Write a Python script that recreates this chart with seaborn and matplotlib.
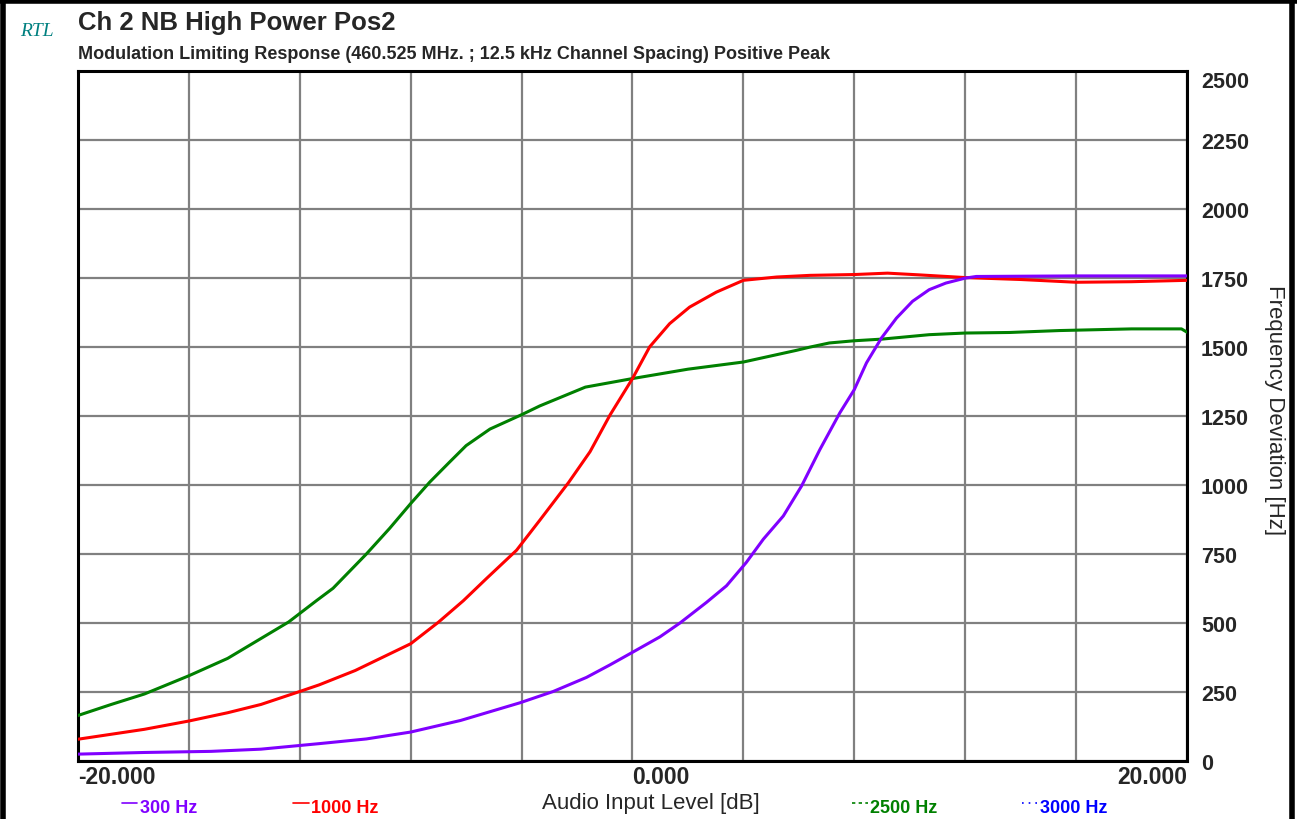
import pandas as pd
import matplotlib
matplotlib.use('Agg')
import matplotlib.pyplot as plt
import seaborn as sns
from matplotlib.lines import Line2D

# curve readings (dB input level -> Hz deviation)
x_300 = [-20, -17.6, -15.2, -13.4, -11.3, -9.6, -8, -6.2, -4.06, -2.86, -1.66, -0.82, 0,
         0.99, 1.71, 2.67, 3.39, 4.1, 4.72, 5.44, 6.1, 6.76, 7.48, 8.0, 8.44, 8.98, 9.52,
         10.1, 10.7, 11.3, 12.0, 12.4, 16, 20]
y_300 = [25, 31, 35, 43, 63, 80, 105, 147, 211, 252, 303, 348, 394,
         450, 500, 575, 635, 719, 804, 888, 997, 1129, 1262, 1346, 1443, 1533, 1605,
         1666, 1708, 1732, 1750, 1756, 1758, 1758]

x_1000 = [-20, -18.8, -17.6, -16, -14.6, -13.4, -12, -11.3, -10, -8, -7, -6.1, -5.27,
          -4.18, -3.34, -2.3, -1.53, -0.81, 0, 0.62, 1.34, 2.06, 3.02, 4, 5.2, 6.4, 8,
          9.2, 10.3, 12, 14, 16, 18, 20]
y_1000 = [79, 97, 115, 145, 175, 205, 252, 276, 328, 425, 503, 581, 661,
          764, 873, 1010, 1121, 1254, 1386, 1501, 1585, 1645, 1699, 1742, 1754, 1760, 1763,
          1768, 1762, 1752, 1745, 1735, 1737, 1742]

x_2500 = [-20, -18.8, -17.6, -16, -14.6, -13.4, -12.4, -11.4, -10.8, -9.6, -8.76, -8,
          -7.31, -6.6, -6, -5.14, -4, -3.34, -1.7, 0, 2, 4, 5.9, 6.4, 7.1, 8, 9, 10.7,
          12, 13.6, 15.4, 18, 19.8, 20]
y_2500 = [165, 205, 243, 309, 372, 444, 504, 581, 626, 750, 843, 933,
          1011, 1083, 1143, 1203, 1255, 1287, 1355, 1386, 1420, 1446, 1488, 1500, 1515,
          1523, 1529, 1545, 1551, 1553, 1560, 1566, 1566, 1554]

legend_labels = ['300 Hz', '1000 Hz', '2500 Hz', '3000 Hz']
legend_colors = ['#8000FF', '#FF0000', '#008000', '#0000FF']

x_ticks = [-20, -16, -12, -8, -4, 0, 4, 8, 12, 16, 20]
x_ticklabels = ['-20.000', '', '', '', '', '0.000', '', '', '', '', '20.000']
y_ticks = [0, 250, 500, 750, 1000, 1250, 1500, 1750, 2000, 2250, 2500]

df = pd.concat([
    pd.DataFrame({'level': x_2500, 'dev': y_2500, 'tone': '2500 Hz'}),
    pd.DataFrame({'level': x_1000, 'dev': y_1000, 'tone': '1000 Hz'}),
    pd.DataFrame({'level': x_300, 'dev': y_300, 'tone': '300 Hz'}),
])

sns.set_style('white')
plt.rcParams['font.family'] = ['Liberation Sans', 'DejaVu Sans']

fig = plt.figure(figsize=(12.97, 8.2), dpi=100)
ax = fig.add_axes([0.0601, 0.0707, 0.9152 - 0.0601, 0.912 - 0.0707])

pal = dict(zip(legend_labels, legend_colors))
sns.lineplot(data=df, x='level', y='dev', hue='tone',
             hue_order=['2500 Hz', '1000 Hz', '300 Hz'], palette=pal,
             linewidth=2.2, legend=False, ax=ax, zorder=3)

ax.set_xlim(-20, 20)
ax.set_ylim(0, 2500)
ax.set_xticks(x_ticks)
ax.set_xticklabels(x_ticklabels, fontsize=16.5, fontweight='bold')
ax.set_yticks(y_ticks)
ax.set_yticklabels([str(v) for v in y_ticks], fontsize=15.5, fontweight='bold')
ax.yaxis.tick_right()
ax.tick_params(axis='both', length=0)
ax.tick_params(axis='x', pad=3)
ax.tick_params(axis='y', pad=10)
labs = ax.get_xticklabels()
labs[0].set_horizontalalignment('left')
labs[5].set_horizontalalignment('left')
labs[-1].set_horizontalalignment('right')
ax.get_yticklabels()[-1].set_verticalalignment('top')

ax.grid(True, color='#808080', linewidth=1.6)
ax.set_axisbelow(True)
for s in ax.spines.values():
    s.set_color('black')
    s.set_linewidth(2.2)
ax.set_xlabel('')
ax.set_ylabel('')

fig.text(0.0154, 0.961, 'RTL', fontsize=14, color='#008080', style='italic',
         family=['Liberation Serif', 'DejaVu Serif'], va='center')
fig.text(0.0601, 0.972, 'Ch 2 NB High Power Pos2', fontsize=18.5, fontweight='bold',
         va='center')
fig.text(0.0601, 0.934,
         'Modulation Limiting Response (460.525 MHz. ; 12.5 kHz Channel Spacing) Positive Peak',
         fontsize=13, fontweight='bold', va='center')
fig.text(0.502, 0.0207, 'Audio Input Level [dB]', fontsize=16, ha='center', va='center')
fig.text(0.983, 0.50, 'Frequency Deviation [Hz]', fontsize=16, rotation=-90,
         ha='center', va='center')

# legend row under the plot
leg_x = [0.094, 0.226, 0.657, 0.788]
leg_ls = ['-', '-', (0, (2, 2)), (0, (1, 3))]
for xx, lab, col, ls in zip(leg_x, legend_labels, legend_colors, leg_ls):
    fig.add_artist(Line2D([xx, xx + 0.012], [0.019, 0.019], color=col,
                          linewidth=1.2, linestyle=ls, transform=fig.transFigure))
    fig.text(xx + 0.014, 0.014, lab, fontsize=13, fontweight='bold', color=col,
             va='center')

# outer frame
for xs, ys in [([0, 1], [0.997, 0.997]), ([0.002, 0.002], [0, 1]), ([0.996, 0.996], [0, 1])]:
    fig.add_artist(Line2D(xs, ys, color='black', linewidth=4, transform=fig.transFigure))

fig.savefig('out.png', dpi=100)
